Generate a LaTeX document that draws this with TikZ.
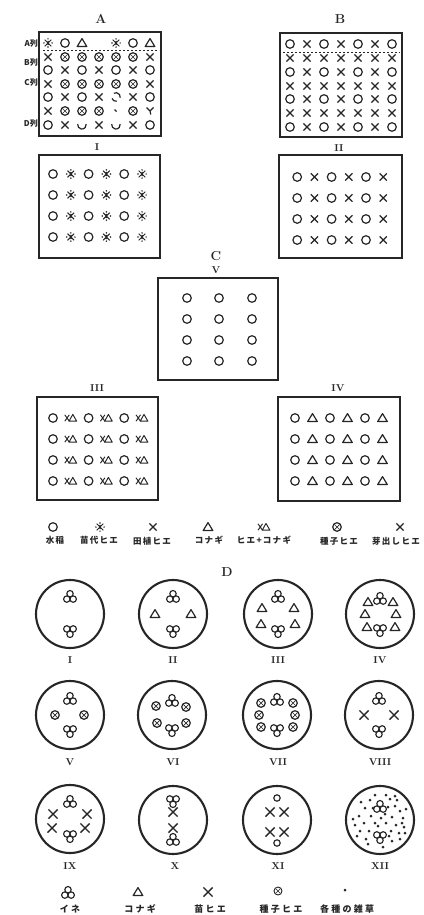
\documentclass[tikz,border=0pt]{standalone}
\usepackage{fontspec}
\newfontfamily\jp{Noto Sans CJK JP}
\newfontfamily\jpa[LetterSpace=15]{Noto Sans CJK JP}
\newfontfamily\jpb[LetterSpace=25]{Noto Sans CJK JP}
\begin{document}
\begin{tikzpicture}[x=1pt,y=-1pt]
\tikzset{
 sym/.style={line width=1.2pt, draw=black!85},
 box/.style={line width=1.9pt, draw=black!85},
 ring/.style={line width=2.1pt, draw=black!85},
 lab/.style={font=\bfseries\fontsize{10}{10}\selectfont, inner sep=0pt, text=black!85},
 big/.style={font=\bfseries\fontsize{13}{13}\selectfont, inner sep=0pt, text=black!85},
 rowlab/.style={font=\jp\bfseries\fontsize{8}{8}\selectfont, inner sep=0pt, anchor=east, text=black!85},
 leg/.style={font=\jpa\bfseries\fontsize{8.5}{9}\selectfont, inner sep=0pt, text=black!85},
 legb/.style={font=\jpb\bfseries\fontsize{9}{9}\selectfont, inner sep=0pt, text=black!85},
 none/.pic={},
 ro/.pic={\draw[sym] (0,0) circle (4.3pt);},
 rx/.pic={\draw[sym] (-3.6pt,-3.6pt) -- (3.6pt,3.6pt) (-3.6pt,3.6pt) -- (3.6pt,-3.6pt);},
 rX/.pic={\draw[sym,line width=1.4pt] (-4.6pt,-4.6pt) -- (4.6pt,4.6pt) (-4.6pt,4.6pt) -- (4.6pt,-4.6pt);},
 rt/.pic={\draw[sym, line join=round] (0,4.4pt) -- (-4.8pt,-3.5pt) -- (4.8pt,-3.5pt) -- cycle;},
 rox/.pic={\draw[sym] (0,0) circle (4.3pt); \draw[sym, line width=0.7pt] (-2.6pt,-2.6pt) -- (2.6pt,2.6pt) (-2.6pt,2.6pt) -- (2.6pt,-2.6pt);},
 rast/.pic={\draw[sym, line width=1pt] (-3.3pt,-3.3pt) -- (3.3pt,3.3pt) (-3.3pt,3.3pt) -- (3.3pt,-3.3pt) (0,-2.2pt) -- (0,2.2pt);
   \foreach \a in {0,90,180,270} \fill[black!85] (\a:4.1pt) circle (0.85pt);},
 rxt/.pic={\draw[sym, line width=0.95pt] (-6pt,-3.2pt) -- (-1.5pt,3.2pt) (-6pt,3.2pt) -- (-1.5pt,-3.2pt);
   \draw[sym, line width=0.95pt, line join=round] (2pt,3.6pt) -- (-1.8pt,-3.2pt) -- (5.9pt,-3.2pt) -- cycle;},
 rcup/.pic={\draw[sym] (-4.3pt,1pt) arc[start angle=170, end angle=370, radius=4.3pt];},
 rpart/.pic={\draw[sym] (-10:4.3pt) arc[start angle=-10, end angle=120, radius=4.3pt];
   \draw[sym] (200:4.3pt) arc[start angle=200, end angle=280, radius=4.3pt];},
 rtick/.pic={\draw[sym] (-1.5pt,1.5pt) -- (0.5pt,-0.5pt);},
 rv/.pic={\draw[sym] (-3.5pt,3.5pt) -- (0,0) -- (3.5pt,3.5pt) (0,0) -- (0.8pt,-3.5pt);},
 rice/.pic={\draw[sym,line width=1.15pt] (0,3.3pt) circle (3.2pt) (-3.2pt,-2.1pt) circle (3.2pt) (3.2pt,-2.1pt) circle (3.2pt);},
 ricev/.pic={\draw[sym,line width=1.15pt] (0,-3.3pt) circle (3.2pt) (-3.2pt,2.1pt) circle (3.2pt) (3.2pt,2.1pt) circle (3.2pt);},
 rsmall/.pic={\draw[sym,line width=1.15pt] (0,0) circle (3.2pt);},
 rdot/.pic={\fill[black!85] (0,0) circle (1.5pt);},
 roxs/.pic={\draw[sym,line width=0.9pt] (0,0) circle (4pt); \draw[sym, line width=0.6pt] (-2.4pt,-2.4pt) -- (2.4pt,2.4pt) (-2.4pt,2.4pt) -- (2.4pt,-2.4pt);},
}
\useasboundingbox (0,0) rectangle (423,915);
\fill[white] (0,0) rectangle (423,915);

% ---------------- A ----------------
\node[big] (tA) at (101,19) {A};
\draw[box] (39,32) rectangle (161,136);
\draw[sym, line width=0.7pt, dashed, dash pattern=on 2pt off 2pt] (43,50) -- (159,50);
\node[rowlab] (la) at (38,44) {A列};
\node[rowlab] (lb) at (38,63) {B列};
\node[rowlab] (lc) at (38,83) {C列};
\node[rowlab] (ld) at (38,124) {D列};
\foreach \s [count=\i] in {rast,ro,rt,none,rast,ro,rt} \pic at ({31+17*\i},43) {\s};
\foreach \s [count=\i] in {rx,rox,rox,rox,rox,rox,rx} \pic at ({31+17*\i},57) {\s};
\foreach \s [count=\i] in {ro,rx,ro,rx,ro,rx,ro} \pic at ({31+17*\i},70) {\s};
\foreach \s [count=\i] in {rx,rox,rox,rox,rox,rox,rx} \pic at ({31+17*\i},84) {\s};
\foreach \s [count=\i] in {ro,rx,ro,rx,rpart,rx,ro} \pic at ({31+17*\i},97) {\s};
\foreach \s [count=\i] in {rx,rox,rox,rox,rtick,rox,rv} \pic at ({31+17*\i},111) {\s};
\foreach \s [count=\i] in {ro,rx,rcup,rx,rcup,rx,ro} \pic at ({31+17*\i},125) {\s};

% ---------------- B ----------------
\node[big] (tB) at (340,19) {B};
\draw[box] (280,33) rectangle (402,137);
\draw[sym, line width=0.7pt, dashed, dash pattern=on 2pt off 2pt] (283,52) -- (400,52);
\foreach \y in {44,72,99,127}
  \foreach \s [count=\i] in {ro,rx,ro,rx,ro,rx,ro} \pic at ({273+17*\i},\y) {\s};
\foreach \y in {58,86,113}
  \foreach \s [count=\i] in {rx,rx,rx,rx,rx,rx,rx} \pic at ({273+17*\i},\y) {\s};

% ---------------- I ----------------
\node[lab] (tI) at (97,147) {I};
\draw[box] (39,155) rectangle (160,258);
\foreach \y in {174,195,216,237}
  \foreach \s [count=\i] in {ro,rast,ro,rast,ro,rast} \pic at ({35.2+17.8*\i},\y) {\s};

% ---------------- II ----------------
\node[lab] (tII) at (339,148) {II};
\draw[box] (279,155) rectangle (402,258);
\foreach \y in {177,198,219,240}
  \foreach \s [count=\i] in {ro,rx,ro,rx,ro,rx} \pic at ({280+17.2*\i},\y) {\s};

% ---------------- C / V ----------------
\node[big] (tC) at (216,256) {C};
\node[lab] (tV) at (216,270) {V};
\draw[box] (158,278) rectangle (278,380);
\foreach \y in {298,319,340,361}
  \foreach \x in {187,219,252} \pic at (\x,\y) {ro};

% ---------------- III ----------------
\node[lab] (tIII) at (97,388) {III};
\draw[box] (37,397) rectangle (158,500);
\foreach \y in {418,439,460,481}
  \foreach \s [count=\i] in {ro,rxt,ro,rxt,ro,rxt} \pic at ({35.2+17.8*\i},\y) {\s};

% ---------------- IV ----------------
\node[lab] (tIV) at (338,388) {IV};
\draw[box] (278,397) rectangle (400,501);
\foreach \y in {418,439,460,481}
  \foreach \s [count=\i] in {ro,rt,ro,rt,ro,rt} \pic at ({277.5+17.5*\i},\y) {\s};

% ---------------- legend 1 ----------------
\pic at (53,527) {ro};   \node[leg] (g1) at (55,540) {水稲};
\pic at (100,527) {rast}; \node[leg] (g2) at (99,540) {苗代ヒエ};
\pic at (153,527) {rx};  \node[leg] (g3) at (152,541) {田植ヒエ};
\pic at (208,527) {rt};  \node[leg] (g4) at (209,540) {コナギ};
\pic at (264,527) {rxt}; \node[leg] (g5) at (264,540) {ヒエ+コナギ};
\pic at (337,527) {rox}; \node[leg] (g6) at (339,541) {種子ヒエ};
\pic at (400,527) {rx};  \node[leg] (g7) at (396,541) {芽出しヒエ};

% ---------------- D ----------------
\node[big] (tD) at (227,572) {D};

% row 1
\begin{scope}[shift={(70,614)}]
 \draw[ring] (0,0) circle (34pt);
 \pic at (0,-17) {rice}; \pic at (0,17) {ricev};
\end{scope}
\begin{scope}[shift={(173,614)}]
 \draw[ring] (0,0) circle (34pt);
 \pic at (0,-17) {rice}; \pic at (0,17) {ricev};
 \pic at (-18,0) {rt}; \pic at (18,0) {rt};
\end{scope}
\begin{scope}[shift={(278,614)}]
 \draw[ring] (0,0) circle (34pt);
 \pic at (0,-17) {rice}; \pic at (0,17) {ricev};
 \pic at (-16,-6) {rt}; \pic at (16,-6) {rt}; \pic at (-17,10) {rt}; \pic at (17,10) {rt};
\end{scope}
\begin{scope}[shift={(380,614)}]
 \draw[ring] (0,0) circle (34pt);
 \pic at (0,-15) {rice}; \pic at (0,16) {ricev};
 \pic at (-12,-12) {rt}; \pic at (13,-12) {rt};
 \pic at (-15,0) {rt}; \pic at (16,0) {rt};
 \pic at (-13,13) {rt}; \pic at (15,13) {rt};
\end{scope}
\node[lab] (dI) at (70,660) {I};
\node[lab] (dII) at (173,660) {II};
\node[lab] (dIII) at (278,660) {III};
\node[lab] (dIV) at (380,660) {IV};

% row 2
\begin{scope}[shift={(70,715)}]
 \draw[ring] (0,0) circle (34pt);
 \pic at (0,-16) {rice}; \pic at (0,16) {ricev};
 \pic at (-15,0) {rox}; \pic at (14,0) {rox};
\end{scope}
\begin{scope}[shift={(172,715)}]
 \draw[ring] (0,0) circle (34pt);
 \pic at (0,-14) {rice}; \pic at (0,15) {ricev};
 \pic at (-16,-9) {rox}; \pic at (14,-8) {rox}; \pic at (-15,8) {rox}; \pic at (14,8) {rox};
\end{scope}
\begin{scope}[shift={(277,715)}]
 \draw[ring] (0,0) circle (34pt);
 \pic at (0,-15) {rice}; \pic at (0,15) {ricev};
 \pic at (-16,-12) {rox}; \pic at (-18,0) {rox}; \pic at (-16,12) {rox};
 \pic at (16,-12) {rox}; \pic at (18,0) {rox}; \pic at (16,12) {rox};
\end{scope}
\begin{scope}[shift={(379,715)}]
 \draw[ring] (0,0) circle (34pt);
 \pic at (0,-16) {rice}; \pic at (0,16) {ricev};
 \pic at (-15,0) {rX}; \pic at (15,0) {rX};
\end{scope}
\node[lab] (dV) at (70,762) {V};
\node[lab] (dVI) at (173,762) {VI};
\node[lab] (dVII) at (278,762) {VII};
\node[lab] (dVIII) at (380,762) {VIII};

% row 3
\begin{scope}[shift={(70,819)}]
 \draw[ring] (0,0) circle (34pt);
 \pic at (0,-17) {rice}; \pic at (0,17) {ricev};
 \pic at (-17,-5) {rX}; \pic at (17,-5) {rX}; \pic at (-18,9) {rX}; \pic at (15,9) {rX};
\end{scope}
\begin{scope}[shift={(173,820)}]
 \draw[ring] (0,0) circle (34pt);
 \pic at (0,-19) {ricev}; \pic at (0,-8) {rX};
 \pic at (0,8) {rX}; \pic at (0,20) {rice};
\end{scope}
\begin{scope}[shift={(277,820)}]
 \draw[ring] (0,0) circle (34pt);
 \pic at (0,-22) {rsmall};
 \pic at (-7,-8) {rX}; \pic at (7,-8) {rX};
 \pic at (-7,12) {rX}; \pic at (7,12) {rX};
 \pic at (0,23) {rsmall};
\end{scope}
\begin{scope}[shift={(380,820)}]
 \draw[ring] (0,0) circle (34pt);
 \pic at (0,-13) {rice}; \pic at (0,17) {ricev};
 \foreach \a/\b in {-10/-20,-15/-12,10/-21,15/-14,20/-9,-21/-4,-9/-4,5/-6,12/-3,23/-2,
   -25/5,-16/3,-5/3,6/3,16/5,24/7,-20/11,-11/11,11/11,19/13,-14/19,12/21,20/19,
   -5/-25,6/-25,-19/-18,1/-2,-27/-1,9/16,-12/24,15/-24,26/-11,-2/6,3/27,25/13,-23/16,
   8/-13,-7/-12,17/-20,22/3}
   \fill[black!85] (\a,\b) circle (1.5pt);
\end{scope}
\node[lab] (dIX) at (70,866) {IX};
\node[lab] (dX) at (175,866) {X};
\node[lab] (dXI) at (278,866) {XI};
\node[lab] (dXII) at (380,866) {XII};

% ---------------- legend 2 ----------------
\pic at (68,893) {rice};  \node[legb] (h1) at (70,909) {イネ};
\pic at (138,892) {rt};   \node[legb] (h2) at (140,909) {コナギ};
\pic at (208,892) {rX};   \node[legb] (h3) at (210,909) {苗ヒエ};
\pic at (278,891) {roxs}; \node[legb] (h4) at (281,909) {種子ヒエ};
\pic at (345,890) {rdot}; \node[legb] (h5) at (347,909) {各種の雑草};
\end{tikzpicture}
\end{document}
